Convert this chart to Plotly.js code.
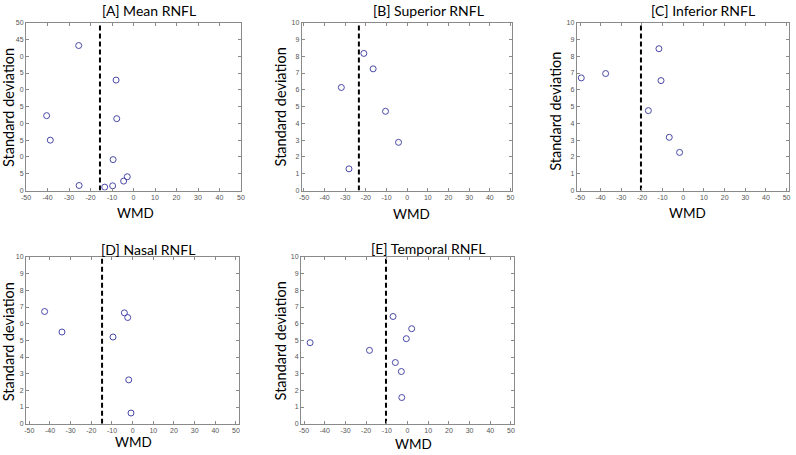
<!DOCTYPE html>
<html>
<head>
<meta charset="utf-8">
<script src="https://cdn.plot.ly/plotly-3.0.1.min.js"></script>
<style>html,body{margin:0;padding:0;background:#fff;}#chart{width:796px;height:455px;}</style>
</head>
<body>
<div id="chart"></div>
<script>
// ---- Data ----
var panelTitles = ["[A] Mean RNFL", "[B] Superior RNFL", "[C] Inferior RNFL", "[D] Nasal RNFL", "[E] Temporal RNFL"];

var wmdA = [-25.5, -8.1, -40.4, -7.8, -38.7, -9.5, -2.9, -4.6, -25.3, -13.4, -9.7];
var sdA  = [43.2, 32.9, 22.3, 21.4, 15.0, 9.2, 4.1, 2.8, 1.5, 1.0, 1.4];

var wmdB = [-21.0, -16.5, -31.9, -10.5, -4.2, -28.2];
var sdB  = [8.17, 7.25, 6.14, 4.72, 2.87, 1.29];

var wmdC = [-11.8, -37.6, -49.4, -10.8, -16.9, -6.8, -1.8];
var sdC  = [8.45, 6.97, 6.71, 6.55, 4.76, 3.17, 2.27];

var wmdD = [-42.6, -34.2, -4.0, -2.4, -9.5, -1.9, -0.8];
var sdD  = [6.73, 5.50, 6.65, 6.37, 5.20, 2.63, 0.64];

var wmdE = [-47.1, -18.4, -7.0, 2.0, -0.6, -5.9, -3.0, -2.8];
var sdE  = [4.86, 4.40, 6.43, 5.70, 5.10, 3.67, 3.13, 1.57];

// pooled WMD (dashed reference line) per panel
var pooledWMD = [-15.6, -23.4, -20.5, -14.8, -10.4];
var sdMax = [50, 10, 10, 10, 10];

var xTickVals = [-50, -40, -30, -20, -10, 0, 10, 20, 30, 40, 50];
var xTickText = ["-50", "-40", "-30", "-20", "-10", "0", "10", "20", "30", "40", "50"];
var yTickValsA = [0, 5, 10, 15, 20, 25, 30, 35, 40, 45, 50];
var yTickTextA = ["0", "5", "0", "5", "0", "5", "0", "5", "0", "45", "50"];
var yTickVals10 = [0, 1, 2, 3, 4, 5, 6, 7, 8, 9, 10];
var yTickText10 = ["0", "1", "2", "3", "4", "5", "6", "7", "8", "9", "10"];

// ---- Layout helpers ----
var W = 796, H = 455;
function px(x) { return x / W; }
function py(y) { return 1 - y / H; }

var xs = [wmdA, wmdB, wmdC, wmdD, wmdE];
var ys = [sdA, sdB, sdC, sdD, sdE];

var xDomains = [[26, 241], [301.7, 512.3], [576.7, 789.3], [26, 239.3], [301, 514.3]];
var yDomains = [[22.7, 190.5], [22.7, 190.5], [22.7, 190.5], [257, 423.7], [257, 423.7]];
var xRanges = [[-50, 50], [-51.1, 50.9], [-51.6, 51.3], [-51.6, 51.6], [-51.5, 51.6]];

var titlePos = [[148.5, 10], [428, 10], [703, 10], [147.5, 249.5], [428, 248.5]];
var yTitlePos = [[8.5, 107.5], [280.7, 106.7], [556, 111.7], [8.5, 341.7], [280.7, 340.7]];
var xTitlePos = [[135, 213], [411.5, 213.5], [687, 213], [133, 442], [413, 443.5]];

var traces = [];
var layout = {
  width: W, height: H,
  margin: {l: 0, r: 0, t: 0, b: 0},
  paper_bgcolor: "#ffffff",
  plot_bgcolor: "#ffffff",
  showlegend: false,
  font: {family: "Lato, sans-serif", color: "#000"},
  annotations: []
};

var fam = "Lato, sans-serif";
var titleFont = {family: fam, size: 14, color: "#000"};
var yTitleFont = {family: fam, size: 14.5, color: "#000"};
var xTitleFont = {family: fam, size: 13.5, color: "#000"};

for (var i = 0; i < 5; i++) {
  var n = i === 0 ? "" : String(i + 1);
  var xa = "x" + n, ya = "y" + n;
  traces.push({
    type: "scatter", mode: "lines",
    x: [pooledWMD[i], pooledWMD[i]], y: [0, sdMax[i]],
    xaxis: xa, yaxis: ya,
    line: {color: "#000", width: 2, dash: "5px,3px"},
    hoverinfo: "skip"
  });
  traces.push({
    type: "scatter", mode: "markers",
    x: xs[i], y: ys[i],
    xaxis: xa, yaxis: ya,
    marker: {symbol: "circle-open", size: 6, color: "#4848a8", line: {width: 1, color: "#4848a8"}}
  });
  var axCommon = {
    showline: true, mirror: "ticks", linecolor: "#8a8a8a", linewidth: 1,
    ticks: "inside", ticklen: 3, tickcolor: "#8a8a8a", tickwidth: 1,
    showgrid: false, zeroline: false,
    tickfont: {family: "'Liberation Sans', Arial, sans-serif", size: 7, color: "#555"},
    fixedrange: true
  };
  layout["xaxis" + n] = Object.assign({}, axCommon, {
    domain: [px(xDomains[i][0]), px(xDomains[i][1])],
    range: xRanges[i], anchor: ya,
    tickmode: "array", tickvals: xTickVals, ticktext: xTickText
  });
  layout["yaxis" + n] = Object.assign({}, axCommon, {
    domain: [py(yDomains[i][1]), py(yDomains[i][0])],
    range: [0, sdMax[i]], anchor: xa,
    tickmode: "array",
    tickvals: i === 0 ? yTickValsA : yTickVals10,
    ticktext: i === 0 ? yTickTextA : yTickText10
  });
  layout.annotations.push({
    text: panelTitles[i], xref: "paper", yref: "paper",
    x: px(titlePos[i][0]), y: py(titlePos[i][1]),
    xanchor: "center", yanchor: "middle", showarrow: false, font: titleFont
  });
  layout.annotations.push({
    text: "Standard deviation", xref: "paper", yref: "paper",
    x: px(yTitlePos[i][0]), y: py(yTitlePos[i][1]),
    xanchor: "center", yanchor: "middle", showarrow: false, textangle: -90, font: yTitleFont
  });
  layout.annotations.push({
    text: "WMD", xref: "paper", yref: "paper",
    x: px(xTitlePos[i][0]), y: py(xTitlePos[i][1]),
    xanchor: "center", yanchor: "middle", showarrow: false, font: xTitleFont
  });
}

Plotly.newPlot("chart", traces, layout, {displayModeBar: false, staticPlot: true});
</script>
</body>
</html>
